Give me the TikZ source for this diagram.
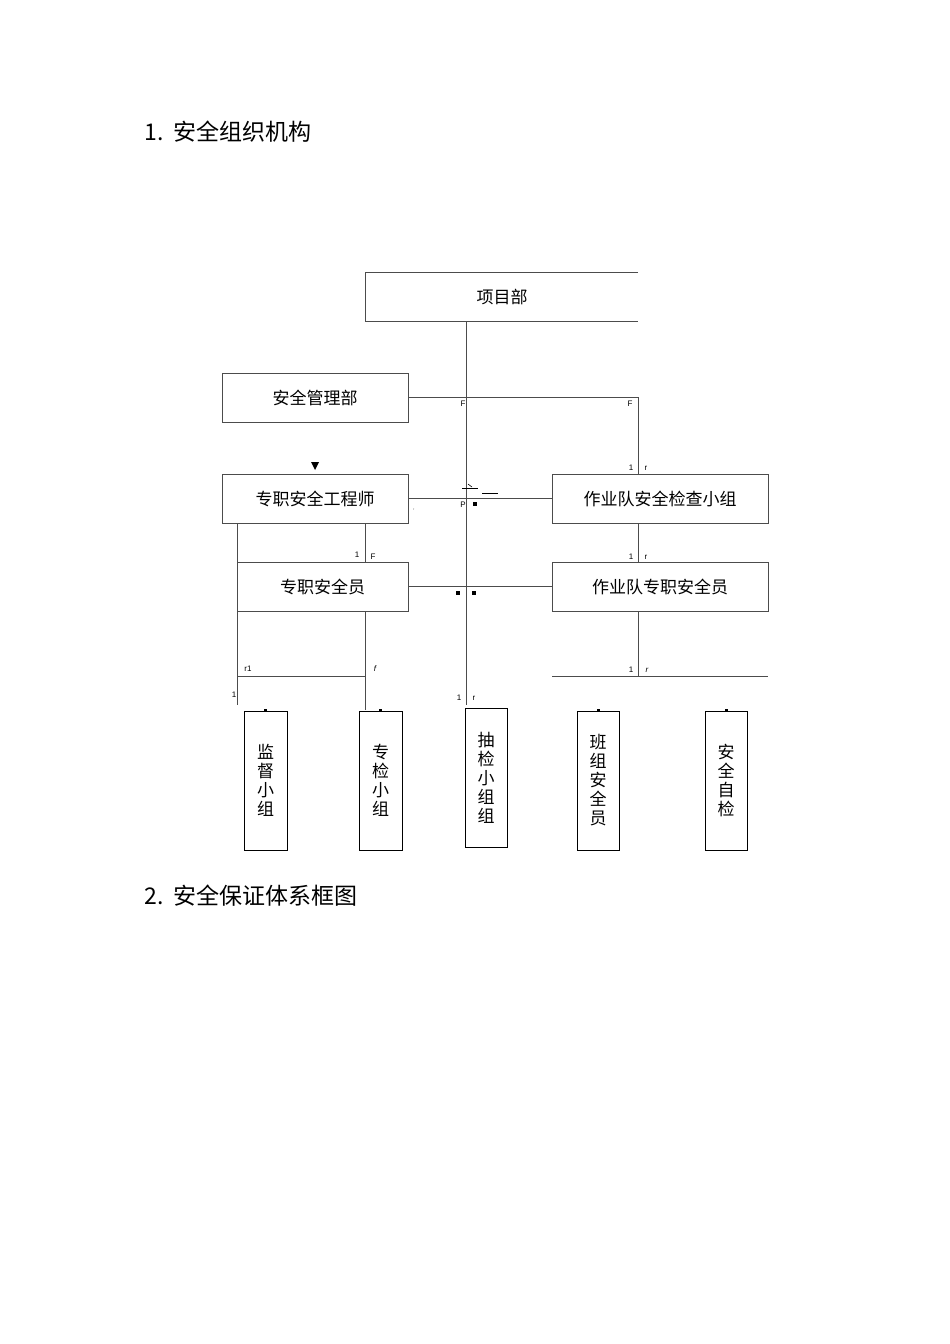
\documentclass[tikz,border=0pt]{standalone}
\usepackage{fontspec}
\setmainfont{Liberation Sans}
\newfontfamily\cjk{Noto Sans CJK SC}
\begin{document}
\begin{tikzpicture}[x=1pt,y=-1pt,
  bx/.style={draw=black!70,line width=0.8pt,minimum height=49pt,inner sep=0pt,font=\cjk\fontsize{17}{17}\selectfont},
  vb/.style={draw=black,line width=1pt,inner sep=0pt,font=\cjk\fontsize{17}{19}\selectfont,align=center},
  ln/.style={draw=black!70,line width=0.8pt},
  sm/.style={font=\fontsize{8}{8}\selectfont,inner sep=0pt}]
\useasboundingbox[fill=white] (0,0) rectangle (950,1344);
\node[anchor=west,font=\cjk\fontsize{23}{23}\selectfont] (t1) at (141,132) {1.\ \ 安全组织机构};
\node[anchor=west,font=\cjk\fontsize{23}{23}\selectfont] (t2) at (141,896) {2.\ \ 安全保证体系框图};
% top box (open right)
\draw[ln] (638,272) -- (365,272) -- (365,321) -- (638,321);
\node[font=\cjk\fontsize{17}{17}\selectfont] (xm) at (502,297) {项目部};
\coordinate (xmb) at (466,321);
\node[bx,minimum width=186pt] (aq) at (315,397.5) {安全管理部};
\node[bx,minimum width=186pt] (gcs) at (315,498.5) {专职安全工程师};
\node[bx,minimum width=216pt] (jc) at (660,498.5) {作业队安全检查小组};
\node[bx,minimum width=171pt] (aqy) at (322.5,586.5) {专职安全员};
\node[bx,minimum width=216pt] (zy) at (660,586.5) {作业队专职安全员};
\node[vb,minimum width=43pt,minimum height=139pt] (b1) at (265.5,780.5) {监\\督\\小\\组};
\node[vb,minimum width=43pt,minimum height=139pt] (b2) at (380.5,780.5) {专\\检\\小\\组};
\node[vb,minimum width=42pt,minimum height=139pt] (b3) at (486,777.5) {抽\\检\\小\\组\\组};
\node[vb,minimum width=42pt,minimum height=139pt] (b4) at (598,780.5) {班\\组\\安\\全\\员};
\node[vb,minimum width=42pt,minimum height=139pt] (b5) at (726,780.5) {安\\全\\自\\检};
% connectors
\draw[ln] (xmb) -- (466,705);
\draw[ln] (aq.east) -- (638,397.5) -- (jc.north -| 638,0);
\draw[ln] (gcs.east) -- (jc.west);
\draw[ln] (aqy.east) -- (zy.west);
\draw[ln] (gcs.south -| 237,0) -- (237,705);
\draw[ln] (gcs.south -| 365,0) -- (aqy.north -| 365,0);
\draw[ln] (aqy.south -| 365,0) -- (365,710);
\draw[ln] (237,676) -- (365,676);
\draw[ln] (jc.south -| 638,0) -- (zy.north -| 638,0);
\draw[ln] (zy.south -| 638,0) -- (638,676);
\draw[ln] (552,676) -- (768,676);
% small marks
\node[sm] (m1) at (463,404) {F};
\node[sm] (m2) at (630,404) {F};
\node[sm] (m3) at (631,468) {1};
\node[sm] (m4) at (646,468) {r};
\node[sm] (m5) at (357,555) {1};
\node[sm] (m6) at (373,557) {F};
\node[sm] (m7) at (631,557) {1};
\node[sm] (m8) at (646,557) {r};
\node[sm] (m9) at (248,669) {r1};
\node[sm] (m10) at (375,669) {\itshape f};
\node[sm] (m11) at (631,670) {1};
\node[sm] (m12) at (647,670) {\itshape r};
\node[sm] (m13) at (234,695) {1};
\node[sm] (m14) at (459,698) {1};
\node[sm] (m15) at (474,698) {r};
\node[sm] (m16) at (463,505) {P};
\node[sm,font=\fontsize{5}{5}\selectfont] (m17) at (414,511) {'};
\fill (311,462) -- (319,462) -- (315,470) -- cycle;
\fill (473,502) rectangle (477,506);
\fill (456,591) rectangle (460,595);
\fill (472,591) rectangle (476,595);
\draw[line width=1pt] (462,488) -- (478,488);
\draw[line width=0.6pt] (468,484) -- (472,487);
\draw[line width=0.5pt] (482,493) -- (498,493);
\foreach \b in {b1,b2,b4,b5} \fill (\b.north) ++(-1.5,-2) rectangle ++(3,2);
\end{tikzpicture}
\end{document}
